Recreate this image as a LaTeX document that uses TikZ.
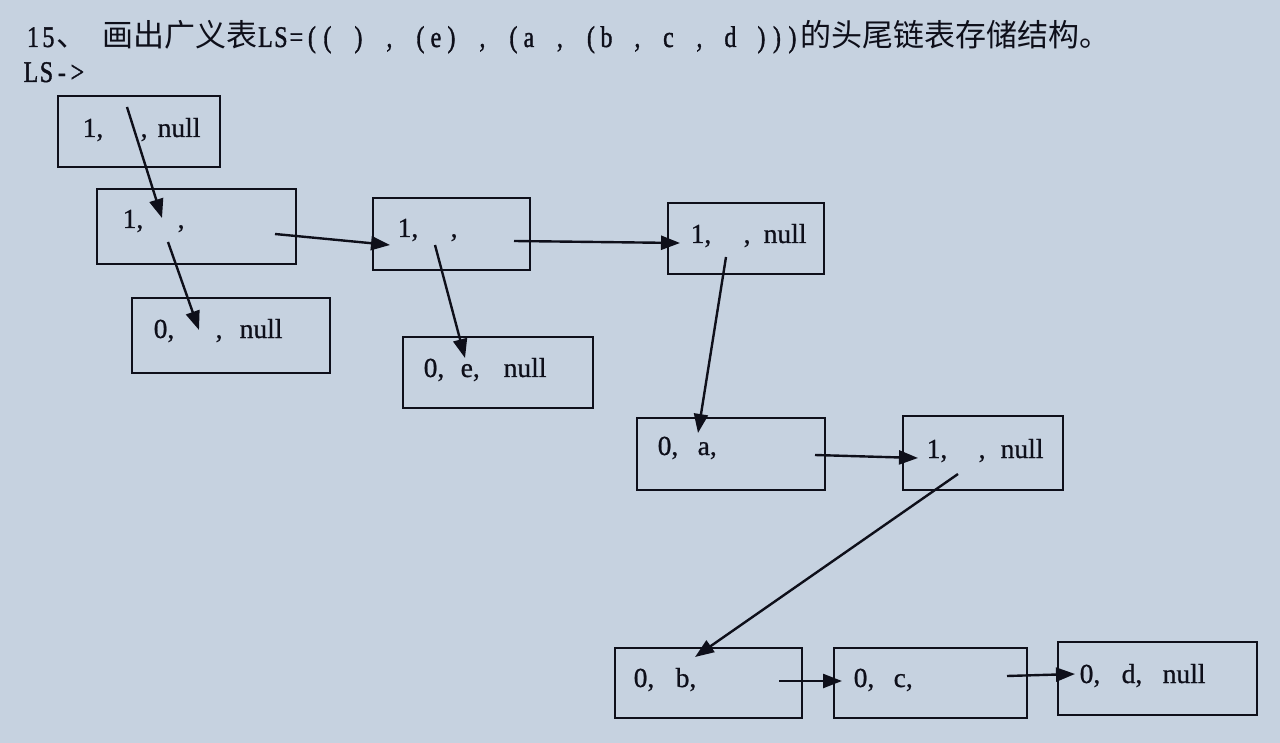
\documentclass[tikz,border=0pt]{standalone}
\usepackage{fontspec}
\setmainfont{Liberation Serif}
\newfontfamily\cjk{Noto Sans CJK SC}
\newfontfamily\titlelat[FakeStretch=0.8,FakeBold=1.2]{Liberation Serif}
\newfontfamily\lblfont[FakeBold=0.8]{Liberation Serif}
\usetikzlibrary{arrows.meta}
\definecolor{bg}{RGB}{198,210,224}
\definecolor{ink}{RGB}{14,15,26}
\newcommand\hc[1]{\makebox[15.5pt][c]{#1}}
\newcommand\cj[1]{{\cjk\fontsize{31}{34}\selectfont #1}}
\newcommand\pc[2]{\rlap{\hspace{#1pt}#2}}
\tikzset{
  box/.style={draw=ink, line width=2.8pt, inner sep=0pt},
  lbl/.style={anchor=base west, inner sep=0pt, text=ink, font=\lblfont\fontsize{27.5}{30}\selectfont},
  ttl/.style={anchor=base west, inner sep=0pt, text=ink, font=\titlelat\fontsize{30}{34}\selectfont},
  link/.style={draw=ink, line width=2.4pt, -{Triangle[length=19pt,width=14pt]}}
}
\begin{document}
\begin{tikzpicture}[x=1pt,y=-1pt]
\fill[bg] (0,0) rectangle (1280,743);
\useasboundingbox (0,0) rectangle (1280,743);

% title
\node[ttl] (title) at (25,47) {\hc{1}\hc{5}\cj{、}\hc{}\cj{画出广义表}\hc{L}\hc{S}\hc{=}\hc{(}\hc{(}\hc{}\hc{)}\hc{}\hc{,}\hc{}\hc{(}\hc{e}\hc{)}\hc{}\hc{,}\hc{}\hc{(}\hc{a}\hc{}\hc{,}\hc{}\hc{(}\hc{b}\hc{}\hc{,}\hc{}\hc{c}\hc{}\hc{,}\hc{}\hc{d}\hc{}\hc{)}\hc{)}\hc{)}\cj{的头尾链表存储结构。}};
\node[ttl] (ls) at (23,82) {\hc{L}\hc{S}\hc{-}\hc{>}};

% boxes
\node[box, minimum width=162pt, minimum height=71pt] (A) at (139,131.5) {};
\node[box, minimum width=199pt, minimum height=75pt] (B) at (196.5,226.5) {};
\node[box, minimum width=198pt, minimum height=75pt] (C) at (231,335.5) {};
\node[box, minimum width=157pt, minimum height=72pt] (D) at (451.5,234) {};
\node[box, minimum width=190pt, minimum height=71pt] (E) at (498,372.5) {};
\node[box, minimum width=156pt, minimum height=71pt] (F) at (746,238.5) {};
\node[box, minimum width=188pt, minimum height=72pt] (G) at (731,454) {};
\node[box, minimum width=160pt, minimum height=74pt] (H) at (983,453) {};
\node[box, minimum width=187pt, minimum height=70pt] (I) at (708.5,683) {};
\node[box, minimum width=193pt, minimum height=70pt] (J) at (930.5,683) {};
\node[box, minimum width=199pt, minimum height=73pt] (K) at (1157.5,678.5) {};

% labels
\node[lbl] (tA) at (82,137) {\pc{0}{1,}\pc{58}{,}\pc{75}{null}};
\node[lbl] (tB) at (122,228) {\pc{0}{1,}\pc{55}{,}};
\node[lbl] (tC) at (153,338) {\pc{0}{0,}\pc{62}{,}\pc{86}{null}};
\node[lbl] (tD) at (397,237) {\pc{0}{1,}\pc{53}{,}};
\node[lbl] (tE) at (423,377) {\pc{0}{0,}\pc{37}{e,}\pc{80}{null}};
\node[lbl] (tF) at (690,243) {\pc{0}{1,}\pc{53}{,}\pc{73}{null}};
\node[lbl] (tG) at (657,455) {\pc{0}{0,}\pc{40}{a,}};
\node[lbl] (tH) at (926,458) {\pc{0}{1,}\pc{52}{,}\pc{74}{null}};
\node[lbl] (tI) at (633,687) {\pc{0}{0,}\pc{42}{b,}};
\node[lbl] (tJ) at (853,687) {\pc{0}{0,}\pc{40}{c,}};
\node[lbl] (tK) at (1079,683) {\pc{0}{0,}\pc{42}{d,}\pc{83}{null}};

% connector end points
\coordinate (s1) at (127,107);  \coordinate (e1) at (162,218);
\coordinate (s2) at (168,242);  \coordinate (e2) at (199,330);
\coordinate (s3) at (275,234);  \coordinate (e3) at (390,245);
\coordinate (s4) at (435,245);  \coordinate (e4) at (465,358);
\coordinate (s5) at (514,241);  \coordinate (e5) at (680,243);
\coordinate (s6) at (726,257);  \coordinate (e6) at (698,433);
\coordinate (s7) at (815,455);  \coordinate (e7) at (918,458);
\coordinate (s8) at (958,474);  \coordinate (e8) at (695,657);
\coordinate (s9) at (779,681);  \coordinate (e9) at (842,681);
\coordinate (s10) at (1007,676); \coordinate (e10) at (1075,674);

\foreach \i in {1,...,10} { \draw[link] (s\i) -- (e\i); }
\end{tikzpicture}
\end{document}
